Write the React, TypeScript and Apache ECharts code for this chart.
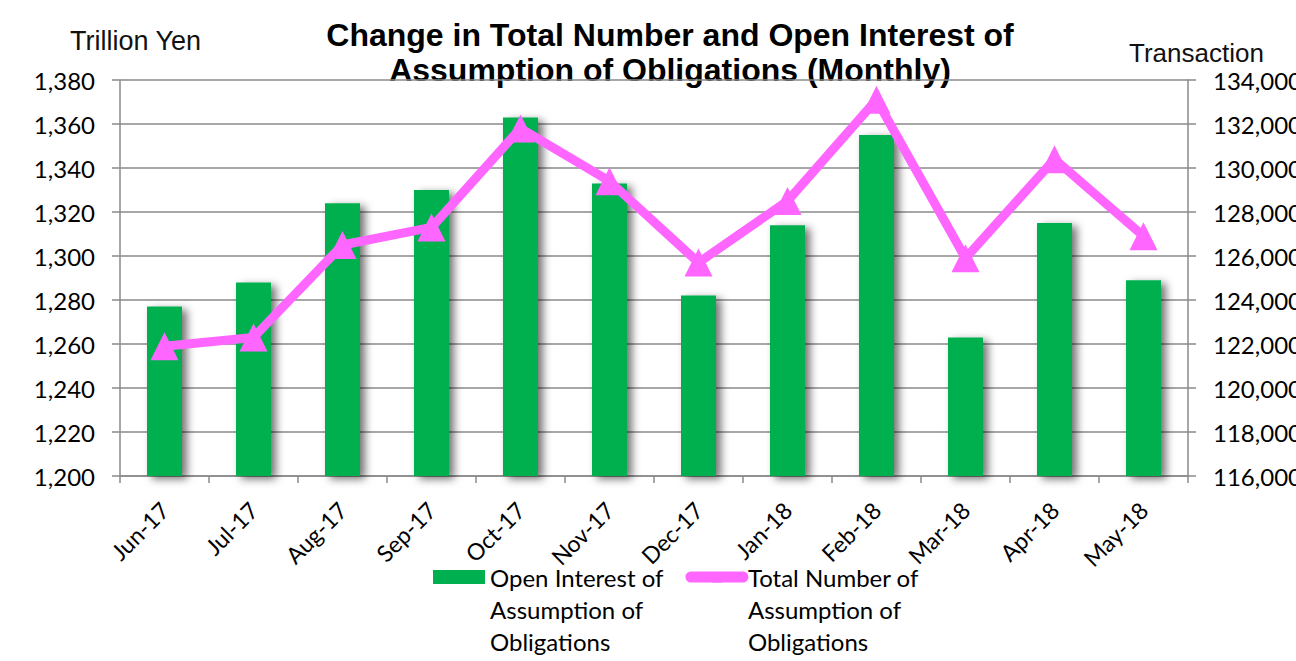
import React, { useEffect, useRef } from "react";
import * as echarts from "echarts";

const categories = ["Jun-17", "Jul-17", "Aug-17", "Sep-17", "Oct-17", "Nov-17", "Dec-17", "Jan-18", "Feb-18", "Mar-18", "Apr-18", "May-18"];
const openInterest = [1277, 1288, 1324, 1330, 1363, 1333, 1282, 1314, 1355, 1263, 1315, 1289];
const totalNumber = [121900, 122300, 126500, 127300, 131800, 129400, 125700, 128500, 133100, 125900, 130400, 126900];

const BAR_NAME = "Open Interest of\nAssumption of\nObligations";
const LINE_NAME = "Total Number of\nAssumption of\nObligations";
const TITLE = "Change in Total Number and Open Interest of\nAssumption of Obligations (Monthly)";
const LEFT_NAME = "Trillion Yen";
const RIGHT_NAME = "Transaction";

const GRID_COLOR = "#8a8a8a";
const fmt = (v: number) => v.toLocaleString("en-US");

export default function App() {
  const ref = useRef<HTMLDivElement>(null);
  useEffect(() => {
    document.body.style.margin = "0";
    const chart = echarts.init(ref.current!, undefined, { renderer: "svg" });
    chart.setOption({
      animation: false,
      backgroundColor: "#ffffff",
      grid: { left: 120, right: 108, top: 80, bottom: 185, containLabel: false, outerBoundsMode: "none" },
      graphic: [
        {
          type: "text",
          x: 670,
          y: 17,
          style: {
            text: TITLE,
            font: 'bold 32px "Liberation Sans", Arial, sans-serif',
            fill: "#000",
            align: "center",
            verticalAlign: "top",
            lineHeight: 35,
          },
        },
        {
          type: "text",
          x: 70,
          y: 41,
          style: {
            text: LEFT_NAME,
            font: '27px "Liberation Sans", Arial, sans-serif',
            fill: "#111",
            align: "left",
            verticalAlign: "middle",
          },
        },
        {
          type: "text",
          x: 1129,
          y: 53,
          style: {
            text: RIGHT_NAME,
            font: '26px "Liberation Sans", Arial, sans-serif',
            fill: "#111",
            align: "left",
            verticalAlign: "middle",
          },
        },
      ],
      legend: {
        left: 428,
        top: 492,
        itemWidth: 52,
        itemHeight: 14,
        itemGap: 22,
        formatter: (name: string) => "\n\n" + name,
        textStyle: { fontFamily: "Lato", fontSize: 24, lineHeight: 32, color: "#000" },
        data: [
          { name: BAR_NAME, icon: "rect" },
          { name: LINE_NAME, lineStyle: { width: 11, cap: "round", color: "#FF66FF" } },
        ],
      },
      xAxis: {
        type: "category",
        data: categories,
        boundaryGap: true,
        axisLine: { show: true, lineStyle: { color: GRID_COLOR, width: 1.5 } },
        axisTick: { show: true, length: 7, lineStyle: { color: GRID_COLOR, width: 1.5 } },
        axisLabel: { rotate: 45, margin: 30, fontFamily: "Lato", fontSize: 23, color: "#000" },
      },
      yAxis: [
        {
          type: "value",
          min: 1200,
          max: 1380,
          interval: 20,
          axisLine: { show: true, lineStyle: { color: GRID_COLOR, width: 1.5 } },
          axisTick: { show: true, length: 8, lineStyle: { color: GRID_COLOR, width: 1.5 } },
          splitLine: { show: true, lineStyle: { color: GRID_COLOR, width: 1.5 } },
          axisLabel: { margin: 25, fontFamily: "Lato", fontSize: 24, color: "#000", formatter: (v: number) => fmt(v) },
        },
        {
          type: "value",
          min: 116000,
          max: 134000,
          interval: 2000,
          position: "right",
          axisLine: { show: true, lineStyle: { color: GRID_COLOR, width: 1.5 } },
          axisTick: { show: true, length: 8, lineStyle: { color: GRID_COLOR, width: 1.5 } },
          splitLine: { show: false },
          axisLabel: { margin: 25, fontFamily: "Lato", fontSize: 24, color: "#000", formatter: (v: number) => fmt(v) },
        },
      ],
      series: [
        {
          name: BAR_NAME,
          type: "bar",
          yAxisIndex: 0,
          data: openInterest,
          barWidth: 35,
          itemStyle: {
            color: "#00B050",
            shadowColor: "rgba(0,0,0,0.55)",
            shadowBlur: 9,
            shadowOffsetX: 5,
            shadowOffsetY: 3,
          },
        },
        {
          name: LINE_NAME,
          type: "line",
          yAxisIndex: 1,
          data: totalNumber,
          symbol: "triangle",
          symbolSize: 28,
          z: 5,
          lineStyle: { color: "#FF66FF", width: 9, cap: "round", join: "round" },
          itemStyle: { color: "#FF66FF" },
        },
      ],
    });
    return () => chart.dispose();
  }, []);
  return <div ref={ref} style={{ position: "absolute", left: 0, top: 0, width: 1296, height: 661 }} />;
}
